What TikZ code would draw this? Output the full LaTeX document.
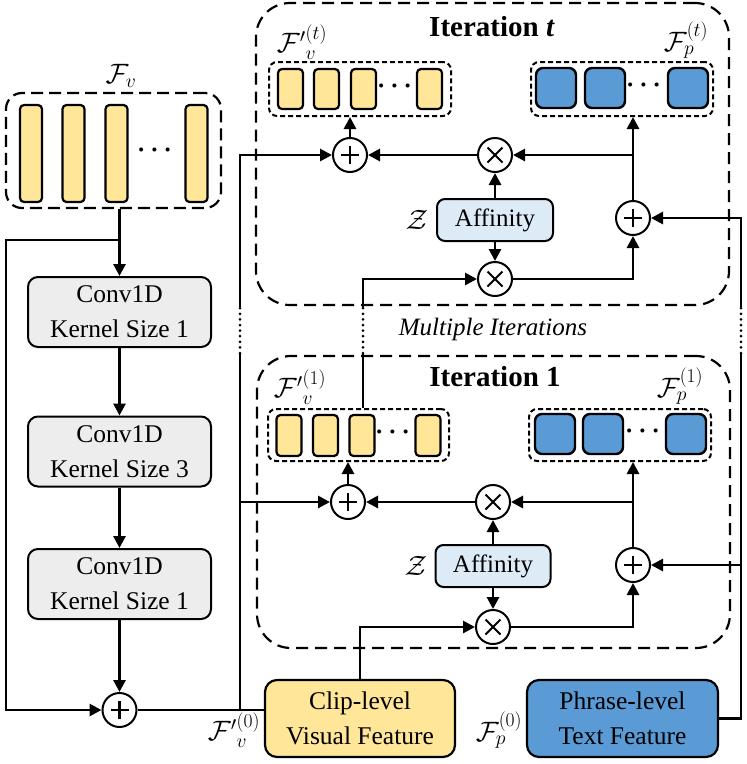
\documentclass[tikz,border=0pt]{standalone}
\usepackage{fix-cm}
\usepackage{amsmath}
\usepackage{fontspec}
\setmainfont{Liberation Serif}
\usetikzlibrary{arrows.meta}
\definecolor{featyellow}{HTML}{FFE699}
\definecolor{featblue}{HTML}{5B9BD5}
\definecolor{affblue}{HTML}{DDEBF7}
\definecolor{convgray}{HTML}{EDEDED}
\tikzset{
  conn/.style={line width=2.8pt},
  arr/.style={line width=2.8pt,-{Triangle[length=12pt,width=12pt]}},
  dotline/.style={line width=3pt,dash pattern=on 0pt off 5.6pt,line cap=round},
  bigdash/.style={draw,dash pattern=on 12pt off 7pt,line width=2.2pt,rounded corners=34pt,inner sep=0pt},
  fvdash/.style={draw,dash pattern=on 12pt off 6pt,line width=2.2pt,rounded corners=16pt,inner sep=0pt},
  smalldash/.style={draw,dash pattern=on 5pt off 3pt,line width=2pt,rounded corners=8pt,inner sep=0pt},
  ybar/.style={draw,fill=featyellow,line width=2.2pt,rounded corners=4pt,inner sep=0pt},
  bsq/.style={draw,fill=featblue,line width=2.4pt,rounded corners=7pt,inner sep=0pt,minimum width=40pt,minimum height=40pt},
  convbox/.style={draw,fill=convgray,rounded corners=10pt,line width=2pt,minimum width=183pt,minimum height=70pt,align=center,inner sep=0pt,font=\fontsize{25.5}{35}\selectfont},
  featbox/.style={draw,rounded corners=12pt,line width=2.2pt,minimum width=190pt,minimum height=77pt,align=center,inner sep=0pt,font=\fontsize{25.5}{35}\selectfont},
  affbox/.style={draw,fill=affblue,rounded corners=8pt,line width=2pt,minimum width=116pt,minimum height=42pt,inner sep=0pt,font=\fontsize{25}{28}\selectfont},
  plusop/.style={circle,draw,fill=white,line width=2pt,minimum size=34pt,inner sep=0pt,
    path picture={\draw[line width=2.4pt] ([xshift=-9pt]path picture bounding box.center) -- ([xshift=9pt]path picture bounding box.center);
                  \draw[line width=2.4pt] ([yshift=-9pt]path picture bounding box.center) -- ([yshift=9pt]path picture bounding box.center);}},
  timesop/.style={circle,draw,fill=white,line width=2pt,minimum size=34pt,inner sep=0pt,
    path picture={\draw[line width=2pt] ([shift={(-7.5pt,-7.5pt)}]path picture bounding box.center) -- ([shift={(7.5pt,7.5pt)}]path picture bounding box.center);
                  \draw[line width=2pt] ([shift={(-7.5pt,7.5pt)}]path picture bounding box.center) -- ([shift={(7.5pt,-7.5pt)}]path picture bounding box.center);}},
  mlabel/.style={inner sep=0pt,font=\fontsize{28}{30}\selectfont},
  ellip/.style={inner sep=0pt,font=\fontsize{26}{28}\selectfont},
  titlefont/.style={inner sep=0pt,font=\fontsize{29}{32}\selectfont\bfseries}
}
\begin{document}
\begin{tikzpicture}[x=1pt,y=-1pt]
\useasboundingbox (0,0) rectangle (747,764);

% ---------------- left column ----------------
\node[fvdash,minimum width=215pt,minimum height=115pt] (fv) at (113.5,150.5) {};
\node[mlabel] (fvl) at (121,76) {$\mathcal{F}_v$};
\node[ybar,minimum width=22pt,minimum height=97pt] (fb1) at (31,153.5) {};
\node[ybar,minimum width=22pt,minimum height=97pt] (fb2) at (73.5,153.5) {};
\node[ybar,minimum width=22pt,minimum height=97pt] (fb3) at (116.5,153.5) {};
\node[ellip] (fbd) at (157,150) {$\boldsymbol{\cdots}$};
\node[ybar,minimum width=22pt,minimum height=97pt] (fb4) at (196.5,153.5) {};

\node[convbox] (conv1) at (119.5,312) {Conv1D\\Kernel Size 1};
\node[convbox] (conv2) at (119.5,451.5) {Conv1D\\Kernel Size 3};
\node[convbox] (conv3) at (119.5,584) {Conv1D\\Kernel Size 1};
\node[plusop] (plus0) at (119.5,710) {};

\node[featbox,fill=featyellow] (clip) at (360,718.5) {Clip-level\\Visual Feature};
\node[featbox,fill=featblue,minimum width=191pt] (phrase) at (622.5,718.5) {Phrase-level\\Text Feature};
\node[mlabel] (v0l) at (234,730) {${\mathcal{F}'}^{(0)}_{v}$};
\node[mlabel] (p0l) at (499,730) {$\mathcal{F}^{(0)}_{p}$};

\coordinate (j0) at (119.5,240);
\coordinate (c1) at (6,240);
\coordinate (c2) at (6,710);
\draw[arr] (conv1.north |- fv.south) -- (conv1.north);
\draw[arr] (j0) -- (c1) -- (c2) -- (plus0.west);
\draw[arr] (conv1) -- (conv2);
\draw[arr] (conv2) -- (conv3);
\draw[arr] (conv3) -- (plus0);
\draw[conn] (plus0.east) -- (plus0.east -| clip.west);

% ---------------- iteration t ----------------
\node[bigdash,minimum width=473pt,minimum height=302pt] (itbox) at (492.5,154) {};
\node[titlefont] (ittitle) at (492,27) {Iteration \textit{t}};
\node[smalldash,minimum width=182pt,minimum height=54pt] (vt) at (360,89) {};
\node[ybar,minimum width=25pt,minimum height=40pt] (vt1) at (290.5,89) {};
\node[ybar,minimum width=25pt,minimum height=40pt] (vt2) at (326.5,89) {};
\node[ybar,minimum width=25pt,minimum height=40pt] (vt3) at (363.5,89) {};
\node[ellip] (vtd) at (397,86) {$\boldsymbol{\cdots}$};
\node[ybar,minimum width=25pt,minimum height=40pt] (vt4) at (429.5,89) {};
\node[smalldash,minimum width=182pt,minimum height=54pt] (pt) at (622,89) {};
\node[bsq] (pt1) at (556,88) {};
\node[bsq] (pt2) at (605,88) {};
\node[ellip] (ptd) at (646,85) {$\boldsymbol{\cdots}$};
\node[bsq] (pt3) at (688,88) {};
\node[mlabel] (vtl) at (302,42) {${\mathcal{F}'}^{(t)}_{v}$};
\node[mlabel] (ptl) at (686,40) {$\mathcal{F}^{(t)}_{p}$};

\node[plusop] (plust) at (350,155) {};
\node[timesop] (timest) at (495,155) {};
\node[affbox] (afft) at (495,220) {Affinity};
\node[mlabel] (zt) at (417,220) {$\mathcal{Z}$};
\node[timesop] (timesbt) at (495,279) {};
\node[plusop] (plus2t) at (633,218) {};

\draw[arr] (plust) -- (plust |- vt.south);
\draw[arr] (timest) -- (plust);
\draw[arr] (plus2t) -- (plus2t |- pt.south);
\draw[arr] (plus2t |- timest) -- (timest);
\draw[arr] (afft) -- (timest);
\draw[arr] (afft) -- (timesbt);
\draw[arr] (timesbt) -| (plus2t);

% ---------------- iteration 1 ----------------
\node[bigdash,minimum width=473pt,minimum height=292pt] (i1box) at (493.5,502) {};
\node[titlefont] (i1title) at (495,377) {Iteration 1};
\node[smalldash,minimum width=181pt,minimum height=52pt] (v1) at (358.5,435) {};
\node[ybar,minimum width=25pt,minimum height=41pt] (v11) at (289,435.5) {};
\node[ybar,minimum width=25pt,minimum height=41pt] (v12) at (325.5,435.5) {};
\node[ybar,minimum width=25pt,minimum height=41pt] (v13) at (362,435.5) {};
\node[ellip] (v1d) at (395,432) {$\boldsymbol{\cdots}$};
\node[ybar,minimum width=25pt,minimum height=41pt] (v14) at (428,435.5) {};
\node[smalldash,minimum width=182pt,minimum height=52pt] (p1) at (620,435) {};
\node[bsq] (p11) at (555,434) {};
\node[bsq] (p12) at (603,434) {};
\node[ellip] (p1d) at (645,431) {$\boldsymbol{\cdots}$};
\node[bsq] (p13) at (686,434) {};
\node[mlabel] (v1l) at (300,387) {${\mathcal{F}'}^{(1)}_{v}$};
\node[mlabel] (p1l) at (680,386) {$\mathcal{F}^{(1)}_{p}$};

\node[plusop] (plus1) at (348,502) {};
\node[timesop] (times1) at (493,502) {};
\node[affbox,minimum width=115pt] (aff1) at (493,566) {Affinity};
\node[mlabel] (z1) at (416,566) {$\mathcal{Z}$};
\node[timesop] (timesb1) at (493,627) {};
\node[plusop] (plus21) at (633,565) {};

\draw[arr] (plus1) -- (plus1 |- v1.south);
\draw[arr] (times1) -- (plus1);
\draw[arr] (plus21) -- (plus21 |- p1.south);
\draw[arr] (plus21 |- times1) -- (times1);
\draw[arr] (aff1) -- (times1);
\draw[arr] (aff1) -- (timesb1);
\draw[arr] (timesb1) -| (plus21);
\draw[arr] (clip.north) |- (timesb1);

% ---------------- long connectors ----------------
\node[inner sep=0pt,font=\fontsize{25}{28}\selectfont\itshape] (multi) at (493,329) {Multiple Iterations};

% left input F'_v^(0)
\coordinate (L0) at (240,710);
\coordinate (Ld1) at (240,353);
\coordinate (Ld2) at (240,307);
\draw[conn] (L0) -- (Ld1);
\draw[dotline] (Ld1) -- (Ld2);
\draw[arr] (Ld2) |- (plust);
\draw[arr] (L0 |- plus1) -- (plus1);

% F'_v^(1) to next iteration
\coordinate (m1) at (363,353);
\coordinate (m2) at (363,307);
\draw[conn] (m1 |- v1.north) -- (m1);
\draw[dotline] (m1) -- (m2);
\draw[arr] (m2) |- (timesbt);

% right input F_p^(0)
\coordinate (Rd1) at (741,353);
\coordinate (Rd2) at (741,307);
\draw[conn] (phrase.east) -| (Rd1);
\draw[dotline] (Rd1) -- (Rd2);
\draw[arr] (Rd2) |- (plus2t);
\draw[arr] (Rd1 |- plus21) -- (plus21);
\end{tikzpicture}
\end{document}
